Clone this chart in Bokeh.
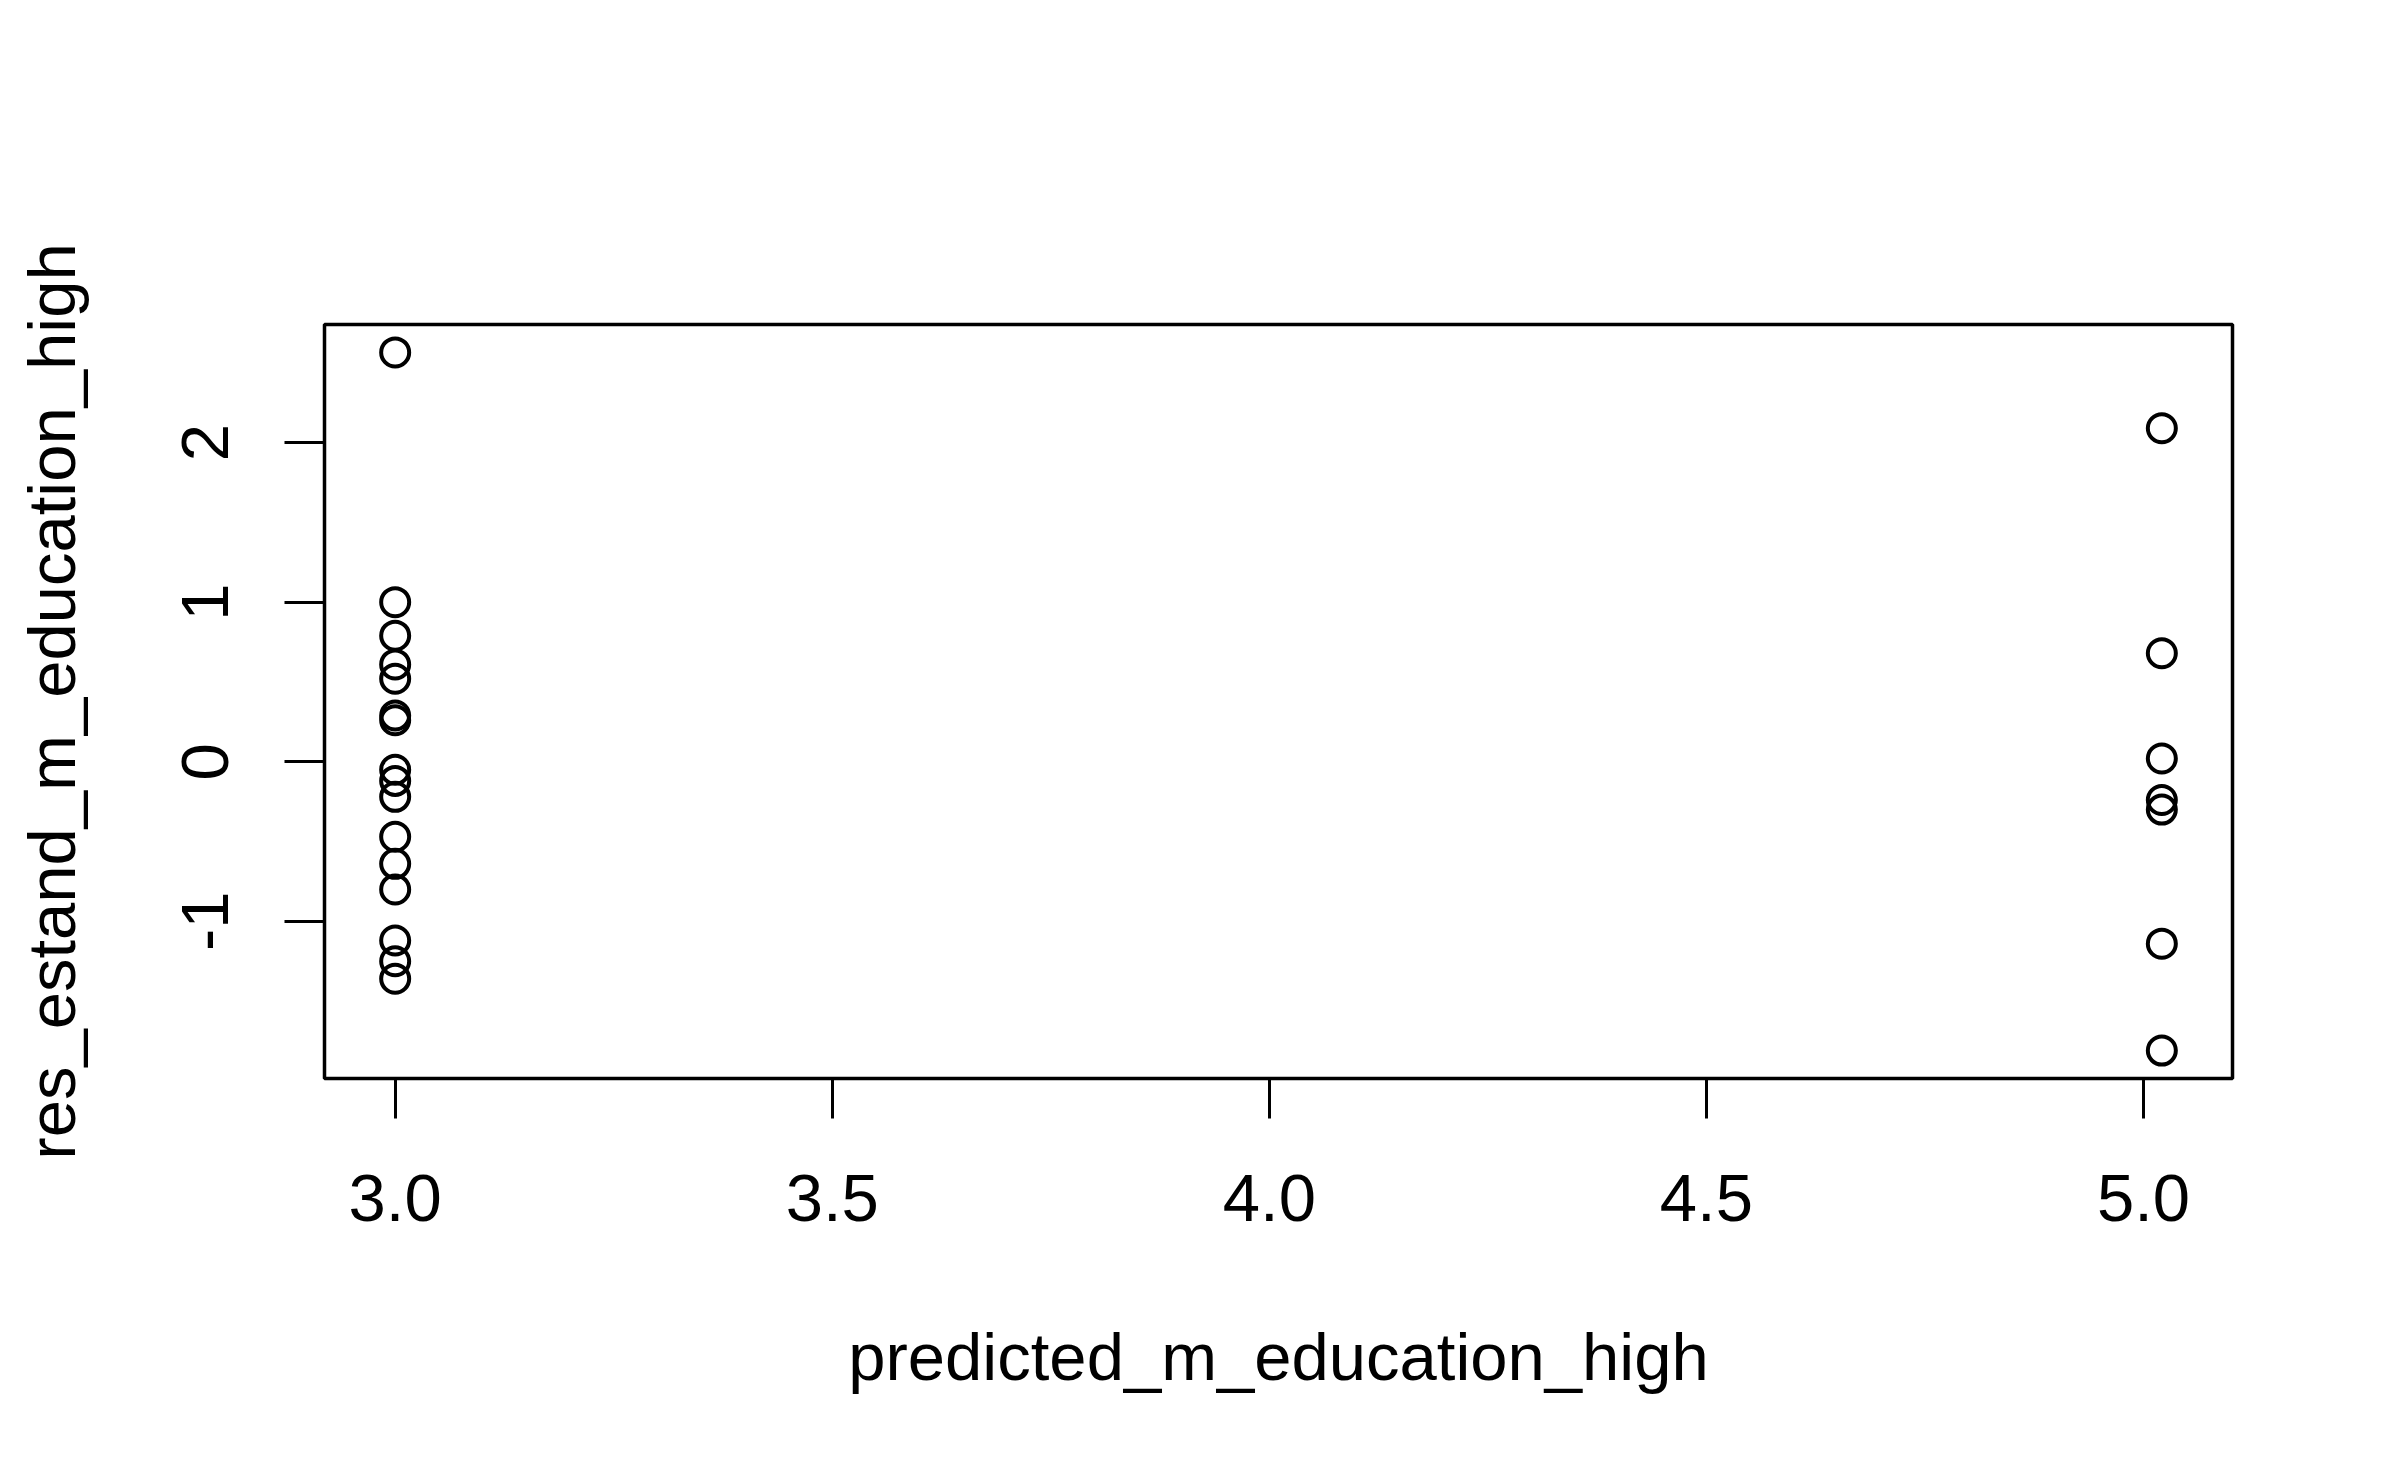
from bokeh.plotting import figure
from bokeh.models import Range1d, FixedTicker
from bokeh.embed import file_html
from bokeh.resources import INLINE

# data
predicted_low = [3.0] * 16
res_low = [2.565, 1.0, 0.79, 0.61, 0.52, 0.29, 0.26, -0.05, -0.12, -0.22,
           -0.47, -0.64, -0.80, -1.12, -1.25, -1.36]
predicted_high = [5.021] * 7
res_high = [2.09, 0.68, 0.02, -0.24, -0.30, -1.14, -1.81]

x_ticks = [3.0, 3.5, 4.0, 4.5, 5.0]
x_tick_labels = ["3.0", "3.5", "4.0", "4.5", "5.0"]
y_ticks = [-1, 0, 1, 2]
y_tick_labels = ["-1", "0", "1", "2"]

x_title = "predicted_m_education_high"
y_title = "res_estand_m_education_high"

xs = predicted_low + predicted_high
ys = res_low + res_high

def padded(vals, f=0.04):
    lo, hi = min(vals), max(vals)
    d = (hi - lo) * f
    return lo - d, hi + d

x0, x1 = padded(xs)
y0, y1 = padded(ys)

FONT = "Liberation Sans"

p = figure(width=2384, height=1467, output_backend="svg", toolbar_location=None,
           x_range=Range1d(x0, x1), y_range=Range1d(y0, y1),
           min_border_left=324, min_border_top=324,
           min_border_right=152, min_border_bottom=389)

p.background_fill_color = "white"
p.border_fill_color = "white"
p.outline_line_color = "black"
p.outline_line_width = 3.5
p.grid.visible = False

p.scatter(xs, ys, marker="circle", size=28, fill_color=None,
          line_color="black", line_width=4)

for ax, ticks, labels in ((p.xaxis[0], x_ticks, x_tick_labels),
                          (p.yaxis[0], y_ticks, y_tick_labels)):
    ax.ticker = FixedTicker(ticks=ticks)
    ax.major_label_overrides = {t: l for t, l in zip(ticks, labels)}
    ax.axis_line_color = None
    ax.major_tick_in = 0
    ax.major_tick_out = 40
    ax.major_tick_line_width = 3
    ax.major_tick_line_color = "black"
    ax.minor_tick_line_color = None
    ax.major_label_text_font = FONT
    ax.major_label_text_font_size = "67px"
    ax.major_label_text_color = "black"
    ax.axis_label_text_font = FONT
    ax.axis_label_text_font_size = "67px"
    ax.axis_label_text_font_style = "normal"
    ax.axis_label_text_color = "black"

p.xaxis[0].axis_label = x_title
p.yaxis[0].axis_label = y_title
p.xaxis[0].major_label_standoff = 56
p.xaxis[0].axis_label_standoff = 95
p.yaxis[0].major_label_orientation = "parallel"
p.yaxis[0].major_label_standoff = 56
p.yaxis[0].axis_label_standoff = 91

open("out.html", "w").write(file_html(p, INLINE))
